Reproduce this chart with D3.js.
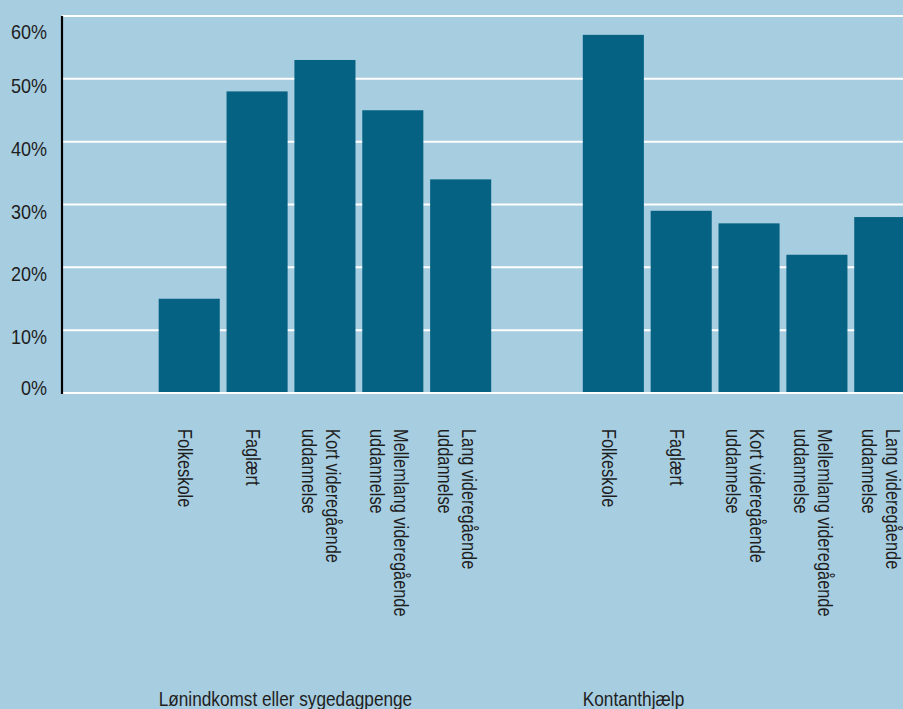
<!DOCTYPE html>
<html>
<head>
<meta charset="utf-8">
<script src="https://cdn.jsdelivr.net/npm/d3@7/dist/d3.min.js"></script>
<style>
	body { margin:0; padding:0; background:#a7cde0; }
	svg { display:block; }
	text { font-family:"Liberation Sans",Arial,sans-serif; fill:#1e1e1e; }
</style>
</head>
<body>
<div id="chart-area"></div>
<script>

var groups = ["Lønindkomst eller sygedagpenge", "Kontanthjælp"];
var categories = ["Folkeskole", "Faglært", "Kort videregående uddannelse", "Mellemlang videregående uddannelse", "Lang videregående uddannelse"];
// label line breaks as printed under the bars
var categoryLines = [["Folkeskole"], ["Faglært"], ["Kort videregående", "uddannelse"], ["Mellemlang videregående", "uddannelse"], ["Lang videregående", "uddannelse"]];
var lonValues = [0.15, 0.48, 0.53, 0.45, 0.34];
var kontValues = [0.57, 0.29, 0.27, 0.22, 0.28];
var yTicks = [0, 0.1, 0.2, 0.3, 0.4, 0.5, 0.6];
var yTickLabels = ["0%", "10%", "20%", "30%", "40%", "50%", "60%"];

var seriesValues = [lonValues, kontValues];

var W = 903, H = 709;
var margin = {left:62, top:16};
var plotBottom = 393;
var narrow = 0.82;   // squeeze to look like a condensed face

var svg = d3.select("#chart-area")
	.append("svg")
		.attr("width", W)
		.attr("height", H);

svg.append("rect")
	.attr("width", W)
	.attr("height", H)
	.attr("fill", "#a7cde0");

var y = d3.scaleLinear()
	.domain([0, 0.6])
	.range([plotBottom, margin.top]);

// outer scale runs past the right edge, the last bar is cut off in the original
var x0 = d3.scaleBand()
	.domain(groups)
	.range([margin.left, 1012])
	.paddingInner(0.2)
	.paddingOuter(0.22);

var x1 = d3.scaleBand()
	.domain(categories)
	.range([0, x0.bandwidth()])
	.paddingInner(0.1)
	.paddingOuter(0.05);

// gridlines
svg.selectAll(".grid")
	.data(yTicks.slice(1))
	.enter()
	.append("line")
		.attr("class", "grid")
		.attr("x1", margin.left)
		.attr("x2", W)
		.attr("y1", function(d){ return y(d); })
		.attr("y2", function(d){ return y(d); })
		.attr("stroke", "#ffffff")
		.attr("stroke-width", 2);

var gs = svg.selectAll(".group")
	.data(groups)
	.enter()
	.append("g")
		.attr("class", "group")
		.attr("transform", function(d){ return "translate(" + x0(d) + ",0)"; });

gs.selectAll("rect")
	.data(function(d, i){
		return seriesValues[i].map(function(v, j){ return {cat:categories[j], value:v}; });
	})
	.enter()
	.append("rect")
		.attr("x", function(d){ return x1(d.cat); })
		.attr("y", function(d){ return y(d.value); })
		.attr("width", x1.bandwidth())
		.attr("height", function(d){ return plotBottom - y(d.value); })
		.attr("fill", "#066283");

// baseline on top of the bars
svg.append("line")
	.attr("x1", margin.left)
	.attr("x2", W)
	.attr("y1", y(0))
	.attr("y2", y(0))
	.attr("stroke", "#ffffff")
	.attr("stroke-width", 2);

// y axis line
svg.append("line")
	.attr("x1", margin.left)
	.attr("x2", margin.left)
	.attr("y1", y(0.6))
	.attr("y2", y(0) + 1)
	.attr("stroke", "#000000")
	.attr("stroke-width", 2.2);

// tick labels sit a bit under their lines, top/bottom ones pulled inward
svg.selectAll(".ylab")
	.data(yTicks)
	.enter()
	.append("text")
		.attr("class", "ylab")
		.attr("transform", function(d){
			var ty = Math.max(32, Math.min(388, y(d) + 7));
			return "translate(47," + ty + ") scale(0.9,1)";
		})
		.attr("dy", "0.35em")
		.attr("text-anchor", "end")
		.attr("font-size", "20px")
		.text(function(d, i){ return yTickLabels[i]; });

// rotated category labels
gs.each(function(g){
	var grp = d3.select(this);
	categories.forEach(function(c, j){
		var lines = categoryLines[j];
		var cx = x1(c) + x1.bandwidth() / 2;
		var off = -11 + (lines.length - 1) * 12;
		var t = grp.append("text")
			.attr("transform", "translate(" + cx + ",429) rotate(90) scale(" + narrow + ",1)")
			.attr("font-size", "20px");
		lines.forEach(function(l, k){
			t.append("tspan")
				.attr("x", 0)
				.attr("y", -off + k * 24)
				.text(l);
		});
	});
});

// group labels
gs.append("text")
	.attr("transform", function(d){ return "translate(" + x1(categories[0]) + ",706) scale(" + narrow + ",1)"; })
	.attr("font-size", "21px")
	.text(function(d){ return d; });

</script>
</body>
</html>
